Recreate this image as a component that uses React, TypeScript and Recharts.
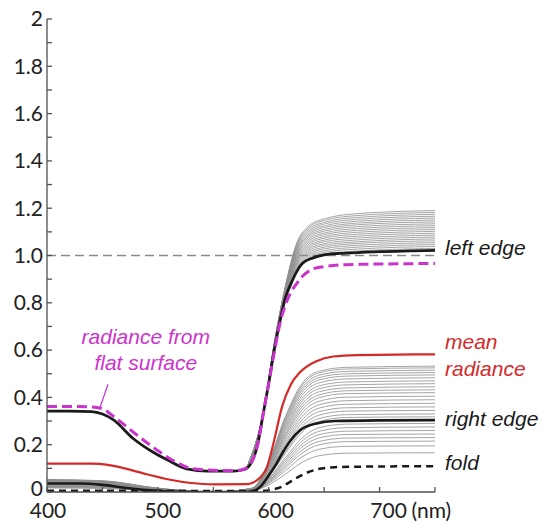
import { LineChart, Line, XAxis, YAxis, ReferenceLine, ReferenceDot } from "recharts"

const WAVELENGTH_TICKS = [400, 450, 500, 550, 600, 650, 700, 750]
const WAVELENGTH_LABELS = ["400", "", "500", "", "600", "", "700 (nm)", ""]
const RADIANCE_TICKS = [0, 0.1, 0.2, 0.3, 0.4, 0.5, 0.6, 0.7, 0.8, 0.9, 1, 1.1, 1.2, 1.3, 1.4, 1.5, 1.6, 1.7, 1.8, 1.9, 2]
const RADIANCE_LABELS = ["0", "", "0.2", "", "0.4", "", "0.6", "", "0.8", "", "1.0", "", "1.2", "", "1.4", "", "1.6", "", "1.8", "", "2"]

// [wavelength nm, radiance]
const LEFT_EDGE = [
  [400, 0.342], [420, 0.342], [440, 0.34], [450, 0.33], [460, 0.305], [478, 0.225], [495, 0.17], [508, 0.137],
  [526, 0.098], [545, 0.088], [568, 0.088], [578, 0.095], [585, 0.13], [590, 0.2], [595, 0.33], [600, 0.46],
  [605, 0.6], [610, 0.72], [615, 0.82], [620, 0.88], [625, 0.93], [630, 0.965], [640, 0.99], [650, 1.003],
  [670, 1.01], [700, 1.016], [750, 1.022],
]
const FLAT_SURFACE = [
  [400, 0.362], [440, 0.36], [450, 0.352], [460, 0.32], [480, 0.245], [500, 0.175], [515, 0.13], [530, 0.1],
  [550, 0.092], [570, 0.09], [578, 0.098], [585, 0.13], [590, 0.2], [595, 0.33], [600, 0.46], [605, 0.59],
  [611, 0.73], [615, 0.79], [620, 0.845], [625, 0.88], [630, 0.91], [640, 0.943], [650, 0.953], [670, 0.961],
  [700, 0.964], [750, 0.966],
]
const MEAN_RADIANCE = [
  [400, 0.12], [440, 0.12], [455, 0.115], [470, 0.1], [490, 0.075], [510, 0.053], [530, 0.038], [550, 0.032],
  [580, 0.033], [586, 0.04], [592, 0.06], [598, 0.1], [605, 0.22], [612, 0.36], [620, 0.455], [628, 0.505],
  [643, 0.553], [658, 0.573], [680, 0.579], [750, 0.582],
]
const RIGHT_EDGE = [
  [400, 0.036], [430, 0.036], [450, 0.03], [470, 0.018], [490, 0.008], [510, 0.002], [530, 0], [580, 0],
  [587, 0.005], [593, 0.025], [600, 0.07], [607, 0.12], [613, 0.17], [620, 0.22], [628, 0.26], [643, 0.29],
  [660, 0.3], [700, 0.303], [750, 0.304],
]
const FOLD = [
  [400, 0.005], [500, 0.005], [580, 0.004], [595, 0.005], [605, 0.012], [613, 0.025], [620, 0.045],
  [628, 0.067], [643, 0.095], [660, 0.105], [700, 0.108], [750, 0.109],
]

// pixels between the left edge and the fold
const UPPER_X = [580, 595, 605, 615, 625, 635, 650, 680, 750]
const UPPER_ROWS = [
  [0.10, 0.33, 0.601, 0.822, 0.936, 0.982, 1.006, 1.019, 1.030],
  [0.10, 0.33, 0.603, 0.825, 0.941, 0.989, 1.013, 1.027, 1.038],
  [0.10, 0.33, 0.604, 0.827, 0.947, 0.996, 1.020, 1.035, 1.046],
  [0.10, 0.33, 0.606, 0.830, 0.953, 1.003, 1.028, 1.043, 1.054],
  [0.10, 0.33, 0.607, 0.832, 0.959, 1.010, 1.035, 1.051, 1.062],
  [0.10, 0.33, 0.609, 0.834, 0.964, 1.016, 1.043, 1.058, 1.070],
  [0.10, 0.33, 0.610, 0.837, 0.970, 1.023, 1.050, 1.066, 1.078],
  [0.10, 0.33, 0.611, 0.839, 0.976, 1.030, 1.058, 1.074, 1.086],
  [0.10, 0.33, 0.613, 0.841, 0.981, 1.037, 1.065, 1.082, 1.094],
  [0.10, 0.33, 0.614, 0.844, 0.987, 1.044, 1.073, 1.090, 1.102],
  [0.10, 0.33, 0.616, 0.846, 0.993, 1.051, 1.080, 1.098, 1.110],
  [0.10, 0.33, 0.617, 0.849, 0.999, 1.058, 1.088, 1.106, 1.118],
  [0.10, 0.33, 0.619, 0.851, 1.004, 1.065, 1.095, 1.114, 1.126],
  [0.10, 0.33, 0.620, 0.853, 1.010, 1.072, 1.103, 1.122, 1.134],
  [0.10, 0.33, 0.621, 0.856, 1.016, 1.079, 1.110, 1.130, 1.142],
  [0.10, 0.33, 0.623, 0.858, 1.021, 1.085, 1.118, 1.137, 1.150],
  [0.10, 0.33, 0.624, 0.861, 1.027, 1.092, 1.125, 1.145, 1.158],
  [0.10, 0.33, 0.626, 0.863, 1.033, 1.099, 1.133, 1.153, 1.166],
  [0.10, 0.33, 0.627, 0.865, 1.039, 1.106, 1.140, 1.161, 1.174],
  [0.10, 0.33, 0.629, 0.868, 1.044, 1.113, 1.148, 1.169, 1.182],
  [0.10, 0.33, 0.630, 0.870, 1.050, 1.120, 1.155, 1.177, 1.190],
]

const LOWER_X = [400, 450, 500, 550, 585, 600, 615, 630, 645, 670, 750]
const LOWER_ROWS = [
  [0.053, 0.048, 0.016, 0, 0.016, 0.128, 0.319, 0.458, 0.510, 0.527, 0.532],
  [0.052, 0.047, 0.016, 0, 0.016, 0.125, 0.313, 0.450, 0.503, 0.520, 0.525],
  [0.051, 0.046, 0.015, 0, 0.015, 0.122, 0.305, 0.440, 0.493, 0.510, 0.515],
  [0.050, 0.045, 0.015, 0, 0.015, 0.119, 0.297, 0.430, 0.483, 0.500, 0.505],
  [0.049, 0.044, 0.015, 0, 0.015, 0.116, 0.289, 0.420, 0.473, 0.490, 0.495],
  [0.048, 0.043, 0.014, 0, 0.014, 0.112, 0.280, 0.408, 0.461, 0.478, 0.483],
  [0.047, 0.042, 0.014, 0, 0.014, 0.108, 0.270, 0.395, 0.448, 0.465, 0.470],
  [0.046, 0.041, 0.014, 0, 0.014, 0.104, 0.261, 0.384, 0.436, 0.453, 0.458],
  [0.044, 0.040, 0.013, 0, 0.013, 0.101, 0.251, 0.371, 0.423, 0.440, 0.445],
  [0.043, 0.039, 0.013, 0, 0.013, 0.097, 0.241, 0.359, 0.410, 0.428, 0.432],
  [0.042, 0.038, 0.013, 0, 0.013, 0.093, 0.233, 0.347, 0.398, 0.416, 0.420],
  [0.040, 0.036, 0.012, 0, 0.012, 0.089, 0.222, 0.333, 0.383, 0.401, 0.405],
  [0.039, 0.035, 0.012, 0, 0.012, 0.085, 0.211, 0.319, 0.368, 0.386, 0.390],
  [0.037, 0.034, 0.011, 0, 0.011, 0.080, 0.201, 0.305, 0.354, 0.371, 0.375],
  [0.036, 0.032, 0.011, 0, 0.011, 0.076, 0.191, 0.291, 0.339, 0.356, 0.360],
  [0.034, 0.031, 0.010, 0, 0.010, 0.072, 0.180, 0.277, 0.324, 0.342, 0.345],
  [0.033, 0.030, 0.010, 0, 0.010, 0.068, 0.171, 0.264, 0.310, 0.327, 0.330],
  [0.032, 0.029, 0.010, 0, 0.010, 0.065, 0.163, 0.253, 0.298, 0.315, 0.318],
  [0.029, 0.026, 0.009, 0, 0.009, 0.058, 0.145, 0.228, 0.271, 0.287, 0.290],
  [0.027, 0.025, 0.008, 0, 0.008, 0.054, 0.136, 0.215, 0.256, 0.272, 0.275],
  [0.026, 0.023, 0.008, 0, 0.008, 0.051, 0.127, 0.202, 0.242, 0.257, 0.260],
  [0.024, 0.022, 0.007, 0, 0.007, 0.047, 0.118, 0.190, 0.228, 0.243, 0.245],
  [0.023, 0.021, 0.007, 0, 0.007, 0.044, 0.109, 0.177, 0.213, 0.228, 0.230],
  [0.021, 0.019, 0.006, 0, 0.006, 0.040, 0.101, 0.164, 0.199, 0.213, 0.215],
  [0.019, 0.017, 0.006, 0, 0.006, 0.036, 0.090, 0.148, 0.180, 0.193, 0.195],
  [0.017, 0.015, 0.005, 0, 0.005, 0.030, 0.075, 0.125, 0.153, 0.164, 0.166],
]

const AXIS = "#505050"
const GRAY = "#8e8e8e"
const RED = "#d42a2a"
const MAGENTA = "#cc33cc"
const INK = "#1a1a1a"
const TICK_FONT = "Lato, 'Open Sans', sans-serif"
const NOTE_FONT = "'Liberation Sans', Arial, sans-serif"

// x-label nudges, the source labels drift a little right of their ticks
const LABEL_NUDGE = [1, 0, 5, 0, 7, 0, 9, 0]

const toPoints = (pairs: number[][]) => pairs.map(([x, y]) => ({ x, y }))
const rowPoints = (xs: number[], row: number[]) => row.map((y, i) => ({ x: xs[i], y }))

const upperLines = UPPER_ROWS.map((r) => rowPoints(UPPER_X, r))
const lowerLines = LOWER_ROWS.map((r) => rowPoints(LOWER_X, r))

const edgeNotes = [
  { x: 750, y: 1.022, lines: ["left edge"], dys: [6], color: INK },
  { x: 750, y: 0.582, lines: ["mean", "radiance"], dys: [-4, 23], color: RED },
  { x: 750, y: 0.304, lines: ["right edge"], dys: [7], color: INK },
  { x: 750, y: 0.109, lines: ["fold"], dys: [5], color: INK },
]

function WavelengthTick({ x, y, index }: any) {
  const [num, unit] = WAVELENGTH_LABELS[index].split(" ")
  const cx = x + LABEL_NUDGE[index]
  return (
    <g>
      <line x1={x} y1={y} x2={x} y2={y - 5} stroke={AXIS} strokeWidth={1.3} />
      {num && (
        <text x={cx} y={y + 11} dy="0.71em" textAnchor="middle" fontSize={21} fontFamily={TICK_FONT} fill="#222">
          {num}
        </text>
      )}
      {unit && (
        <text x={cx + 23} y={y + 11} dy="0.71em" textAnchor="start" fontSize={21} fontFamily={TICK_FONT} fill="#222">
          {unit}
        </text>
      )}
    </g>
  )
}

function RadianceTick({ x, y, index }: any) {
  // the zero label sits a touch above its tick in the source
  const lift = index === 0 ? -3 : 0
  return (
    <g>
      <line x1={x} y1={y} x2={x + 5} y2={y} stroke={AXIS} strokeWidth={1.3} />
      <text x={x - 4} y={y + lift} dy="0.35em" textAnchor="end" fontSize={21} fontFamily={TICK_FONT} fill="#222">
        {RADIANCE_LABELS[index]}
      </text>
    </g>
  )
}

function noteContent(lines: string[], dys: number[], color: string, dx: number, anchor: string) {
  return ({ viewBox }: any) => {
    const { x, y } = viewBox
    return (
      <g>
        {lines.map((t, i) => (
          <text key={t} x={x + dx} y={y + dys[i]} textAnchor={anchor} fontSize={21} fontStyle="italic" fontFamily={NOTE_FONT} fill={color}>
            {t}
          </text>
        ))}
      </g>
    )
  }
}

export default function App() {
  return (
    <div style={{ position: "absolute", left: 0, top: 0, width: 545, height: 522, background: "#fff" }}>
      <LineChart width={545} height={522} margin={{ top: 19, right: 110, bottom: 0, left: 0 }}>
        <XAxis
          type="number"
          dataKey="x"
          domain={[400, 750]}
          ticks={WAVELENGTH_TICKS}
          interval={0}
          height={30}
          tickSize={0}
          tickMargin={0}
          tickLine={false}
          tick={<WavelengthTick />}
          axisLine={{ stroke: AXIS, strokeWidth: 1.3 }}
          allowDataOverflow
        />
        <YAxis
          type="number"
          domain={[0, 2]}
          ticks={RADIANCE_TICKS}
          interval={0}
          width={47}
          tickSize={0}
          tickMargin={0}
          tickLine={false}
          tick={<RadianceTick />}
          axisLine={{ stroke: AXIS, strokeWidth: 1.3 }}
          allowDataOverflow
        />
        <ReferenceLine y={1} stroke="#8a8a8a" strokeWidth={1.3} strokeDasharray="9 5" />
        {upperLines.map((d, i) => (
          <Line key={`u${i}`} data={d} dataKey="y" type="monotone" stroke={GRAY} strokeWidth={0.8} dot={false} isAnimationActive={false} />
        ))}
        {lowerLines.map((d, i) => (
          <Line key={`l${i}`} data={d} dataKey="y" type="monotone" stroke={GRAY} strokeWidth={0.8} dot={false} isAnimationActive={false} />
        ))}
        <Line data={toPoints(FOLD)} dataKey="y" type="monotone" stroke={INK} strokeWidth={2.5} strokeDasharray="7 5" dot={false} isAnimationActive={false} />
        <Line data={toPoints(RIGHT_EDGE)} dataKey="y" type="monotone" stroke={INK} strokeWidth={2.6} dot={false} isAnimationActive={false} />
        <Line data={toPoints(MEAN_RADIANCE)} dataKey="y" type="monotone" stroke={RED} strokeWidth={2.2} dot={false} isAnimationActive={false} />
        <Line data={toPoints(LEFT_EDGE)} dataKey="y" type="monotone" stroke={INK} strokeWidth={2.8} dot={false} isAnimationActive={false} />
        <Line data={toPoints(FLAT_SURFACE)} dataKey="y" type="monotone" stroke={MAGENTA} strokeWidth={3} strokeDasharray="10 5" dot={false} isAnimationActive={false} />
        <ReferenceLine
          segment={[{ x: 455, y: 0.455 }, { x: 448, y: 0.36 }]}
          stroke={MAGENTA}
          strokeWidth={1.3}
          ifOverflow="visible"
        />
        <ReferenceDot
          x={490}
          y={0.6}
          r={1}
          fill="none"
          stroke="none"
          ifOverflow="visible"
          label={{ content: noteContent(["radiance from", "flat surface"], [-5, 21], MAGENTA, 0, "middle") }}
        />
        {edgeNotes.map((n) => (
          <ReferenceDot
            key={n.lines[0]}
            x={n.x}
            y={n.y}
            r={1}
            fill="none"
            stroke="none"
            ifOverflow="visible"
            label={{ content: noteContent(n.lines, n.dys, n.color, 11, "start") }}
          />
        ))}
      </LineChart>
    </div>
  )
}
